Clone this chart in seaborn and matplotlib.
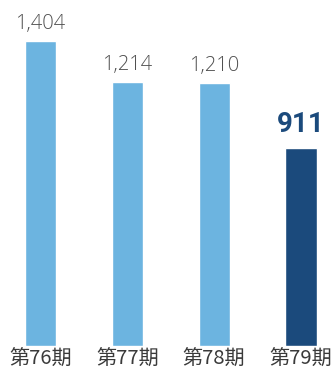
import matplotlib
matplotlib.use("Agg")
import matplotlib.pyplot as plt
import seaborn as sns
import pandas as pd

categories = ["第76期", "第77期", "第78期", "第79期"]
values = [1404, 1214, 1210, 911]
value_labels = ["1,404", "1,214", "1,210", "911"]
colors = ["#6cb4e0", "#6cb4e0", "#6cb4e0", "#1b4a7c"]

sns.set_theme(style="white")
plt.rcParams['font.family'] = ['Noto Sans CJK JP', 'DejaVu Sans']

df = pd.DataFrame({"cat": categories, "val": values})

fig = plt.figure(figsize=(3.35, 3.74), dpi=100)
ax = fig.add_axes([0, 28 / 374, 1, 346 / 374])
sns.barplot(data=df, x="cat", y="val", hue="cat", palette=colors, legend=False,
            width=0.36, ax=ax, saturation=1)

ax.set_xlim(-40.5 / 86.83, (335 - 40.5) / 86.83)
ax.set_ylim(0, 1593)
for s in ax.spines.values():
    s.set_visible(False)
ax.set_yticks([])
ax.set_xlabel("")
ax.set_ylabel("")
ax.tick_params(axis="x", length=0, pad=2, labelsize=14.5, colors="#3a3a3a")

for i, (v, lab) in enumerate(zip(values, value_labels)):
    if i == len(values) - 1:
        ax.annotate(lab, (i, v), xytext=(0, 7), textcoords="offset points",
                    ha="center", va="bottom", fontsize=20, fontweight="bold",
                    color="#1b4a7c", family=["Roboto", "DejaVu Sans"])
    else:
        ax.annotate(lab, (i, v), xytext=(0, 5), textcoords="offset points",
                    ha="center", va="bottom", fontsize=14.5, fontweight="light",
                    color="#505050", family=["Open Sans", "DejaVu Sans"])

fig.savefig("out.png", dpi=100)
